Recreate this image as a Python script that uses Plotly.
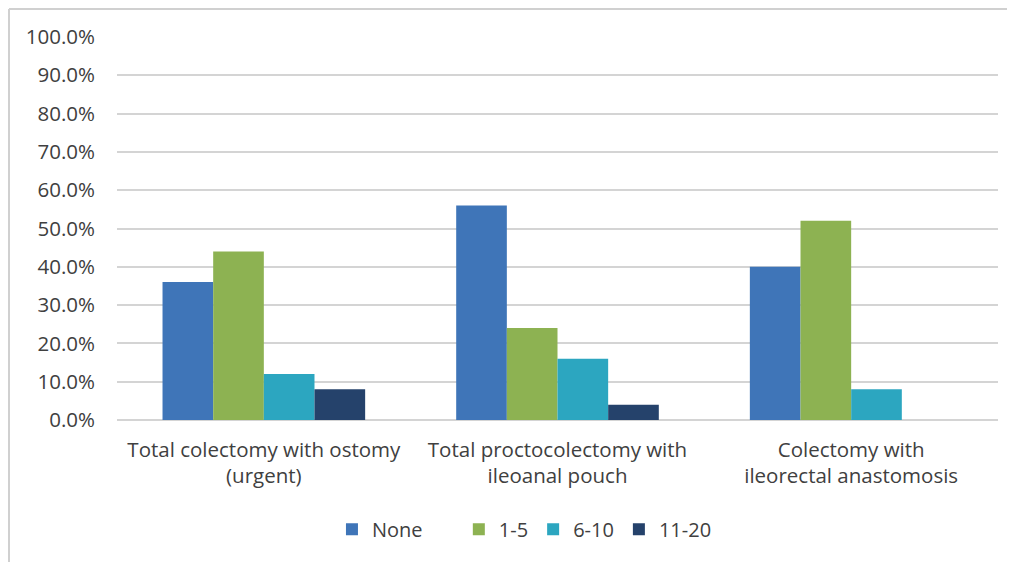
import plotly.graph_objects as go

categories = [
    "Total colectomy with ostomy<br>(urgent)",
    "Total proctocolectomy with<br>ileoanal pouch",
    "Colectomy with<br>ileorectal anastomosis",
]
none_vals = [0.36, 0.56, 0.40]
v1_5 = [0.44, 0.24, 0.52]
v6_10 = [0.12, 0.16, 0.08]
v11_20 = [0.08, 0.04, 0.0]
y_ticks = [i / 10 for i in range(11)]

series = [
    ("None", none_vals, "#3F75B8", "legend"),
    ("1-5", v1_5, "#8DB252", "legend2"),
    ("6-10", v6_10, "#2CA6C0", "legend2"),
    ("11-20", v11_20, "#25426B", "legend2"),
]

font_family = "Open Sans, Lato, sans-serif"
text_col = "#404040"

fig = go.Figure()
for name, vals, col, leg in series:
    fig.add_trace(go.Bar(x=categories, y=vals, name=name, marker_color=col,
                         marker_line_width=0, legend=leg, hoverinfo="skip"))

fig.update_layout(
    width=1007, height=554,
    margin=dict(l=109, r=17, t=29, b=142),
    paper_bgcolor="white", plot_bgcolor="white",
    barmode="group", bargap=0.31, bargroupgap=0,
    font=dict(family=font_family, size=20, color=text_col),
    legend=dict(orientation="h", x=0.244, y=-0.285, xanchor="left", yanchor="middle",
                font=dict(size=20), bgcolor="rgba(0,0,0,0)"),
    legend2=dict(orientation="h", x=0.388, y=-0.285, xanchor="left", yanchor="middle",
                 font=dict(size=20), bgcolor="rgba(0,0,0,0)", traceorder="normal"),
    showlegend=True,
)
fig.update_xaxes(showgrid=False, showline=False, ticks="", tickfont=dict(size=20.5),
                 ticklabelstandoff=15, fixedrange=True)
fig.update_yaxes(range=[0, 1.0], tickvals=y_ticks, tickformat=".1%",
                 tickfont=dict(size=20.5),
                 showgrid=True, gridcolor="#D4D4D4", gridwidth=2,
                 zeroline=True, zerolinecolor="#D4D4D4", zerolinewidth=2,
                 showline=False, ticks="", ticklabelstandoff=21, fixedrange=True)

# outer chart frame (top and left edges visible)
fig.add_shape(type="line", xref="paper", yref="paper", x0=-0.1226, x1=1.05, y0=1.073, y1=1.073,
              line=dict(color="#D0D0D0", width=2))
fig.add_shape(type="line", xref="paper", yref="paper", x0=-0.1226, x1=-0.1226, y0=1.073, y1=-0.4,
              line=dict(color="#D0D0D0", width=2))

fig.write_html("out.html")
